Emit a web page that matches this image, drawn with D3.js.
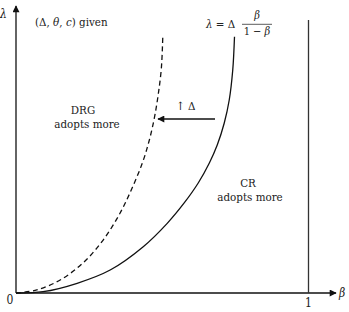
<!DOCTYPE html>
<html><head><meta charset="utf-8">
<script src="https://cdn.jsdelivr.net/npm/d3@7"></script>
<style>body{margin:0;background:#fff}svg{display:block}
svg text{font-family:"DejaVu Serif Condensed","DejaVu Serif",serif}</style>
</head><body><svg id="c" width="349" height="312"></svg>
<script>
const solidBeta   = [0, 0.0925, 0.209, 0.322, 0.435, 0.517, 0.575, 0.623, 0.661, 0.688, 0.712, 0.729, 0.741, 0.747];
const solidLambda = [0, 0.015, 0.113, 0.267, 0.538, 0.810, 1.047, 1.279, 1.512, 1.721, 1.977, 2.244, 2.593, 2.980];
const dashBeta    = [0, 0.071, 0.151, 0.229, 0.298, 0.356, 0.397, 0.432, 0.455, 0.473, 0.486, 0.497, 0.502];
const dashLambda  = [0, 0.035, 0.151, 0.349, 0.616, 0.930, 1.221, 1.512, 1.767, 2.035, 2.302, 2.616, 3.000];
const xTicks = ["0", "1"];

const svg = d3.select("#c");
const x = d3.scaleLinear().domain([0, 1]).range([16, 308.5]);
const y = d3.scaleLinear().domain([0, 3]).range([293, 35]);

const defs = svg.append("defs");
defs.append("marker").attr("id","ah").attr("viewBox","0 0 10 10").attr("refX",9).attr("refY",5)
  .attr("markerWidth",10).attr("markerHeight",7).attr("markerUnits","userSpaceOnUse").attr("orient","auto")
  .append("path").attr("d","M0,0 L10,5 L0,10 Z").attr("fill","#111");

svg.append("line").attr("x1",x(0)).attr("y1",y(0)).attr("x2",336).attr("y2",y(0))
  .attr("stroke","#111").attr("stroke-width",1.3).attr("marker-end","url(#ah)");
svg.append("line").attr("x1",x(0)).attr("y1",y(0)).attr("x2",x(0)).attr("y2",6)
  .attr("stroke","#111").attr("stroke-width",1.3).attr("marker-end","url(#ah)");
svg.append("line").attr("x1",x(1)).attr("y1",y(0)).attr("x2",x(1)).attr("y2",20)
  .attr("stroke","#333").attr("stroke-width",1.3);

const line = d3.line().x(d=>x(d[0])).y(d=>y(d[1])).curve(d3.curveCatmullRom.alpha(0.5));
svg.append("path").attr("d", line(solidBeta.map((b,i)=>[b, solidLambda[i]])))
  .attr("fill","none").attr("stroke","#111").attr("stroke-width",1.3);
svg.append("path").attr("d", line(dashBeta.map((b,i)=>[b, dashLambda[i]])))
  .attr("fill","none").attr("stroke","#111").attr("stroke-width",1.3).attr("stroke-dasharray","5,3.5");

svg.append("line").attr("x1",215).attr("y1",119).attr("x2",158).attr("y2",119)
  .attr("stroke","#111").attr("stroke-width",1.5).attr("marker-end","url(#ah)");

function txt(xp, yp, size, anchor) {
  return svg.append("text").attr("x",xp).attr("y",yp).attr("font-size",size)
    .attr("text-anchor",anchor||"start").attr("fill","#222");
}

txt(10, 304, 12, "middle").text(xTicks[0]);
txt(x(1), 307, 12, "middle").text(xTicks[1]);

txt(0, 18, 12).attr("font-style","italic").text("λ");
txt(339, 297, 12).attr("font-style","italic").text("β");

const t1 = txt(35, 25.5, 11.5);
t1.append("tspan").text("(Δ, ");
t1.append("tspan").attr("font-style","italic").text("θ");
t1.append("tspan").text(", ");
t1.append("tspan").attr("font-style","italic").text("c");
t1.append("tspan").text(") given");

const f = txt(206, 28, 11.5);
f.append("tspan").attr("font-style","italic").text("λ");
f.append("tspan").text(" = Δ");
txt(257, 18.5, 11, "middle").attr("font-style","italic").text("β");
svg.append("line").attr("x1",242).attr("x2",272).attr("y1",24.3).attr("y2",24.3).attr("stroke","#333").attr("stroke-width",0.8);
const d2 = txt(257, 35, 11, "middle");
d2.append("tspan").text("1 − ");
d2.append("tspan").attr("font-style","italic").text("β");

txt(176, 110, 11.5).text("↑ Δ");

txt(83, 114, 11.5, "middle").text("DRG");
txt(87, 128, 11.5, "middle").text("adopts more");
txt(248, 187, 11.5, "middle").text("CR");
txt(250, 201, 11.5, "middle").text("adopts more");
</script></body></html>
